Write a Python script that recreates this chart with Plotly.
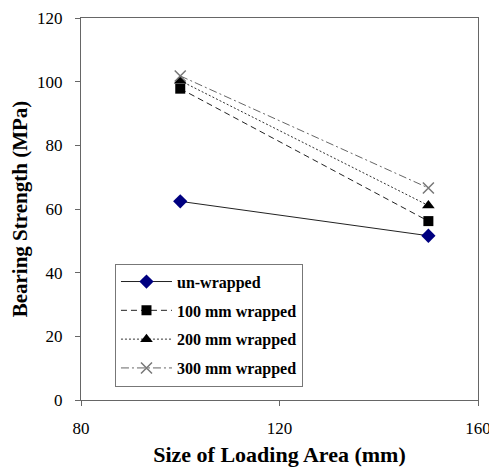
import plotly.graph_objects as go

x_vals = [100, 150]
unwrapped = [62.4, 51.6]
wrap100 = [97.8, 56.2]
wrap200 = [100.3, 61.1]
wrap300 = [101.8, 66.6]

names = ["un-wrapped", "100 mm wrapped", "200 mm wrapped", "300 mm wrapped"]
x_ticks = [80, 120, 160]
y_ticks = [0, 20, 40, 60, 80, 100, 120]

fig = go.Figure()
fig.add_trace(go.Scatter(x=x_vals, y=unwrapped, name=names[0], mode="lines+markers", legendgroup="a",
                         line=dict(color="#222222", width=1, dash="solid"),
                         marker=dict(symbol="diamond", size=11, color="#000080")))
fig.add_trace(go.Scatter(x=x_vals, y=wrap100, name=names[1], mode="lines+markers", legendgroup="b",
                         line=dict(color="#222222", width=1, dash="6px,4px"),
                         marker=dict(symbol="square", size=10, color="black")))
fig.add_trace(go.Scatter(x=x_vals, y=wrap200, name=names[2], mode="lines+markers", legendgroup="c",
                         line=dict(color="#333333", width=1, dash="2px,2px"),
                         marker=dict(symbol="triangle-up", size=11, color="black")))
fig.add_trace(go.Scatter(x=x_vals, y=wrap300, name=names[3], mode="lines+markers", legendgroup="d",
                         line=dict(color="#666666", width=1, dash="8px,3px,2px,3px"),
                         marker=dict(symbol="x-thin", size=11, color="#777777",
                                     line=dict(width=1.5, color="#777777"))))

font_family = "Liberation Serif, Times New Roman, serif"
fig.update_layout(
    width=489, height=467,
    margin=dict(l=81, r=11, t=18, b=67),
    paper_bgcolor="white", plot_bgcolor="white",
    font=dict(family=font_family, color="black", size=17),
    showlegend=True,
    legend=dict(x=0.0856, y=0.357, xanchor="left", yanchor="top",
                bordercolor="#777777", borderwidth=1, bgcolor="white",
                font=dict(family=font_family, size=16, color="black", weight="bold"),
                itemwidth=51, traceorder="grouped", tracegroupgap=5),
    xaxis=dict(range=[80, 160], tickvals=x_ticks, showgrid=False, zeroline=False,
               showline=True, linecolor="#666666", linewidth=1, mirror=True,
               ticks="outside", ticklen=5, tickcolor="#666666", automargin=False,
               ticklabeloverflow="allow", ticklabelstandoff=8,
               tickfont=dict(size=17),
               title=dict(text="<b>Size of Loading Area (mm)</b>", font=dict(size=22))),
    yaxis=dict(range=[0, 120], tickvals=y_ticks, showgrid=False, zeroline=False,
               showline=True, linecolor="#666666", linewidth=1, mirror=True,
               ticks="outside", ticklen=5, tickcolor="#666666", automargin=False,
               ticklabelstandoff=9,
               tickfont=dict(size=17),
               title=dict(text="<b>Bearing Strength (MPa)</b>", font=dict(size=21), standoff=3)),
)

fig.write_html("out.html", post_script="document.body.style.margin='0';",
               config={"displayModeBar": False})
